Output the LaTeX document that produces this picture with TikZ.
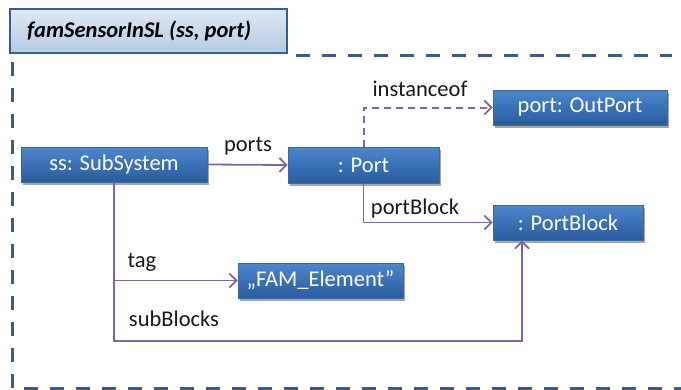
\documentclass[tikz,border=0pt]{standalone}
\usepackage{fontspec}
\setmainfont{Carlito}
\usetikzlibrary{arrows.meta,shadows,calc}
\definecolor{frameblue}{RGB}{56,93,138}
\definecolor{boxtop}{RGB}{76,134,205}
\definecolor{boxbot}{RGB}{42,92,158}
\definecolor{boxedge}{RGB}{58,105,165}
\definecolor{titletop}{RGB}{222,232,245}
\definecolor{titlebot}{RGB}{182,202,228}
\definecolor{linkpurple}{RGB}{128,100,162}
\tikzset{
  obj/.style={rectangle, inner sep=0pt, top color=boxtop, bottom color=boxbot,
    draw=boxedge, line width=0.6pt, text=white,
    drop shadow={shadow xshift=2pt, shadow yshift=-2.5pt, fill=black, opacity=0.35},
    font=\fontsize{22.5}{27}\selectfont},
  link/.style={draw=linkpurple, line width=1.8pt,
    -{Straight Barb[length=7pt,width=14pt,line width=1.8pt]}},
  dashlink/.style={link, line width=2pt, dash pattern=on 7pt off 5pt},
  linklabel/.style={font=\fontsize{22.5}{27}\selectfont, text=black!90, inner sep=0pt},
  framedash/.style={draw=frameblue, line width=3pt, dash pattern=on 14pt off 12pt}
}
\begin{document}
\begin{tikzpicture}[x=1pt,y=-1pt]
\useasboundingbox (0,0) rectangle (681,389);
\begin{scope}
\clip (0,0) rectangle (681,389);
% dashed frame of the pattern
\draw[framedash] (296,55.5) -- (672,55.5);
\draw[framedash] (12,62) -- (12,388.5) -- (681,388.5);
\end{scope}

% title tab
\node[rectangle, minimum width=277pt, minimum height=44pt, inner sep=0pt,
  top color=titletop, bottom color=titlebot, draw=frameblue, line width=2.5pt]
  (title) at (148.5,31) {};
\node[anchor=west, inner sep=0pt, font=\fontsize{22.5}{27}\selectfont\bfseries\itshape]
  (titletext) at (27,31) {famSensorInSL (ss, port)};

% objects
\node[obj, minimum width=186pt, minimum height=35pt] (ss) at (114,164.5) {ss: SubSystem};
\node[obj, minimum width=151pt, minimum height=36pt] (port) at (363.5,165) {: Port};
\node[obj, minimum width=174pt, minimum height=35pt] (outport) at (580,107.5) {port: OutPort};
\node[obj, minimum width=150pt, minimum height=35pt] (pblock) at (568,222.5) {: PortBlock};
\node[obj, minimum width=165pt, minimum height=35pt] (fam) at (320.5,280.5) {„FAM\_Element”};

% links
\draw[link] (ss.east) -- (port.west);
\draw[dashlink] (port.north) |- (outport.west);
\draw[link] (port.south) |- (pblock.west);
\draw[link] (ss.south) |- (fam.west);
\coordinate (sbcorner) at (522,341);
\draw[link] (ss.south) |- (sbcorner) -- (sbcorner |- pblock.south);

% link labels
\node[linklabel] (lports) at (248,146) {ports};
\node[linklabel] (linst) at (420,89) {instanceof};
\node[linklabel] (lpblock) at (415,208) {portBlock};
\node[linklabel] (ltag) at (142,262) {tag};
\node[linklabel] (lsub) at (174,319) {subBlocks};
\end{tikzpicture}
\end{document}
